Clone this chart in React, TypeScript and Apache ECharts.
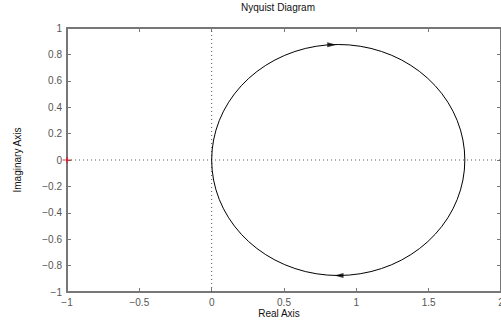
import React, { useEffect, useRef } from "react";
import * as echarts from "echarts";

// Upper half of the Nyquist curve (negative frequencies)
const upperRe = [0, 0.0033, 0.0133, 0.0298, 0.0528, 0.082, 0.1172, 0.1582, 0.2047, 0.2563, 0.3126, 0.3731, 0.4375, 0.5052, 0.5757, 0.6485, 0.7231, 0.7987, 0.875, 0.9513, 1.0269, 1.1015, 1.1743, 1.2448, 1.3125, 1.3769, 1.4374, 1.4937, 1.5453, 1.5918, 1.6328, 1.668, 1.6972, 1.7202, 1.7367, 1.7467, 1.75];
const upperIm = [0, 0.0763, 0.1519, 0.2265, 0.2993, 0.3698, 0.4375, 0.5019, 0.5624, 0.6187, 0.6703, 0.7168, 0.7578, 0.793, 0.8222, 0.8452, 0.8617, 0.8717, 0.875, 0.8717, 0.8617, 0.8452, 0.8222, 0.793, 0.7578, 0.7168, 0.6703, 0.6187, 0.5624, 0.5019, 0.4375, 0.3698, 0.2993, 0.2265, 0.1519, 0.0763, 0];
// Lower half (positive frequencies), from 1.75 back to 0
const lowerRe = [1.75, 1.7467, 1.7367, 1.7202, 1.6972, 1.668, 1.6328, 1.5918, 1.5453, 1.4937, 1.4374, 1.3769, 1.3125, 1.2448, 1.1743, 1.1015, 1.0269, 0.9513, 0.875, 0.7987, 0.7231, 0.6485, 0.5757, 0.5052, 0.4375, 0.3731, 0.3126, 0.2563, 0.2047, 0.1582, 0.1172, 0.082, 0.0528, 0.0298, 0.0133, 0.0033, 0];
const lowerIm = [0, -0.0763, -0.1519, -0.2265, -0.2993, -0.3698, -0.4375, -0.5019, -0.5624, -0.6187, -0.6703, -0.7168, -0.7578, -0.793, -0.8222, -0.8452, -0.8617, -0.8717, -0.875, -0.8717, -0.8617, -0.8452, -0.8222, -0.793, -0.7578, -0.7168, -0.6703, -0.6187, -0.5624, -0.5019, -0.4375, -0.3698, -0.2993, -0.2265, -0.1519, -0.0763, 0];
// Direction arrows
const arrowTop = [0.83, 0.873];
const arrowBottom = [0.88, -0.875];
const criticalPoint = [-1, 0];

const fmt = (v: number) => {
  const r = Math.round(v * 10) / 10;
  const s = String(Math.abs(r));
  return r < 0 ? "\u2212" + s : s;
};

export default function App() {
  const ref = useRef<HTMLDivElement>(null);
  useEffect(() => {
    document.body.style.margin = "0";
    const chart = echarts.init(ref.current!, null, { renderer: "svg" });
    const font = "'Liberation Sans', Arial, Helvetica, sans-serif";
    const axisCol = "#777777";
    const common = {
      type: "value" as const,
      axisLine: { show: true, onZero: false, lineStyle: { color: axisCol, width: 2 } },
      axisTick: { show: true, inside: true, length: 4, lineStyle: { color: axisCol, width: 1 } },
      splitLine: { show: false },
    };
    chart.setOption({
      animation: false,
      grid: { left: 67, right: 0, top: 28, bottom: 35, outerBoundsMode: "none", containLabel: false },
      xAxis: [
        {
          ...common,
          min: -1, max: 2, interval: 0.5, position: "bottom",
          axisLabel: { color: "#555", fontSize: 10, fontFamily: font, margin: 5, formatter: fmt, showMaxLabel: true, showMinLabel: true },
        },
        {
          ...common,
          min: -1, max: 2, interval: 0.5, position: "top",
          axisLabel: { show: false },
        },
      ],
      yAxis: [
        {
          ...common,
          min: -1, max: 1, interval: 0.2, position: "left",
          axisLabel: { color: "#555", fontSize: 10, fontFamily: font, margin: 5, formatter: fmt },
        },
        {
          ...common,
          min: -1, max: 1, interval: 0.2, position: "right",
          axisLabel: { show: false },
        },
      ],
      graphic: [
        { type: "text", x: 278, y: 7, style: { text: "Nyquist Diagram", fill: "#111", fontSize: 10, fontFamily: font, align: "center", verticalAlign: "middle" } },
        { type: "text", x: 279, y: 313, style: { text: "Real Axis", fill: "#111", fontSize: 10, fontFamily: font, align: "center", verticalAlign: "middle" } },
        { type: "text", x: 17, y: 160, rotation: Math.PI / 2, style: { text: "Imaginary Axis", fill: "#111", fontSize: 10, fontFamily: font, align: "center", verticalAlign: "middle" } },
      ],
      series: [
        {
          type: "line", data: [[-1, 0], [2, 0]], symbol: "none", silent: true,
          lineStyle: { color: "#555", width: 1, type: [1, 3] },
        },
        {
          type: "line", data: [[0, -1], [0, 1]], symbol: "none", silent: true,
          lineStyle: { color: "#555", width: 1, type: [1, 3] },
        },
        {
          type: "line", data: upperRe.map((x, i) => [x, upperIm[i]]), symbol: "none",
          lineStyle: { color: "#000", width: 1 },
        },
        {
          type: "line", data: lowerRe.map((x, i) => [x, lowerIm[i]]), symbol: "none",
          lineStyle: { color: "#000", width: 1 },
        },
        {
          type: "scatter", data: [arrowTop], symbol: "triangle", symbolSize: [5, 9], symbolRotate: -90,
          itemStyle: { color: "#000" },
        },
        {
          type: "scatter", data: [arrowBottom], symbol: "triangle", symbolSize: [5, 9], symbolRotate: 90,
          itemStyle: { color: "#000" },
        },
        {
          type: "scatter", data: [criticalPoint], symbol: "path://M0,2.5h9v1h-9zM4,0h1v6h-1z", symbolSize: [9, 6], clip: false,
          itemStyle: { color: "#ff0000" }, z: 10,
        },
      ],
    });
    return () => chart.dispose();
  }, []);
  return <div ref={ref} style={{ position: "absolute", left: 0, top: 0, width: 501, height: 327 }} />;
}
